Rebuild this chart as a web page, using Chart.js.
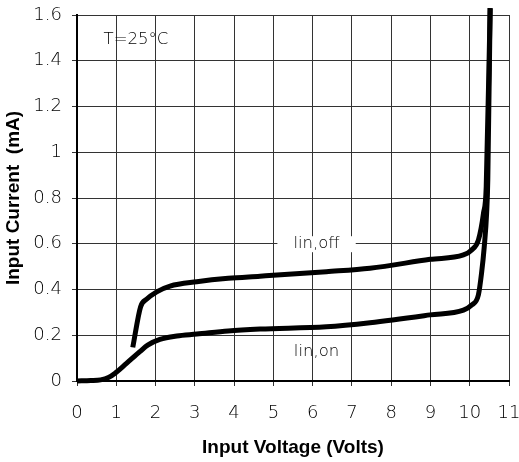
<!DOCTYPE html>
<html lang="en">
<head>
<meta charset="UTF-8">
<title>Input Current vs Input Voltage</title>
<script src="https://cdn.jsdelivr.net/npm/chart.js"></script>
<style>
  html, body { margin: 0; padding: 0; background: #fff; }
  #wrap { width: 519px; height: 462px; }
</style>
</head>
<body>
<div id="wrap"><canvas id="ivChart" width="519" height="462"></canvas></div>
<script>
// curve "lin,off" (upper)
const linOffVolts = [1.42, 1.62, 1.77, 2.03, 2.37, 3.05, 3.85, 4.66, 6.35, 7.46, 8.99, 9.84, 10.05, 10.22, 10.35, 10.42, 10.52];
const linOffCurrent = [0.147, 0.325, 0.357, 0.39, 0.415, 0.434, 0.449, 0.458, 0.478, 0.493, 0.532, 0.551, 0.573, 0.616, 0.733, 0.85, 1.63];

// curve "lin,on" (lower)
const linOnVolts = [0, 0.35, 0.6, 0.8, 0.97, 1.26, 1.6, 1.8, 2.11, 2.54, 3.05, 3.85, 4.66, 6.35, 7.46, 8.99, 9.84, 10.05, 10.22, 10.3, 10.37, 10.43, 10.46, 10.52];
const linOnCurrent = [0, 0.002, 0.005, 0.015, 0.034, 0.077, 0.128, 0.157, 0.182, 0.197, 0.205, 0.219, 0.227, 0.237, 0.255, 0.289, 0.31, 0.332, 0.376, 0.47, 0.587, 0.733, 0.88, 1.63];

const xTicks = [0, 1, 2, 3, 4, 5, 6, 7, 8, 9, 10, 11];
const xTickLabels = ['0', '1', '2', '3', '4', '5', '6', '7', '8', '9', '10', '11'];
const yTicks = [0, 0.2, 0.4, 0.6, 0.8, 1.0, 1.2, 1.4, 1.6];
const yTickLabels = ['0', '0.2', '0.4', '0.6', '0.8', '1', '1.2', '1.4', '1.6'];

// text notes placed in data units
const notes = [
  { text: 'T=25°C', x: 1.5, y: 1.49, box: false },
  { text: 'lin,off', x: 6.1, y: 0.598, box: true },
  { text: 'lin,on', x: 6.1, y: 0.127, box: false }
];

const lightFamily = '"DejaVu Sans", Lato, sans-serif';
const tickFont = { family: lightFamily, size: 18, weight: '200' };
const titleFont = { family: '"Liberation Sans", Arial, sans-serif', size: 19, weight: 'bold' };

function toPoints(xs, ys) {
  return xs.map((x, i) => ({ x: x, y: ys[i] }));
}

function labelFor(list, labels, v) {
  const i = list.findIndex(t => Math.abs(t - v) < 1e-6);
  return i < 0 ? '' : labels[i];
}

const notePlugin = {
  id: 'notes',
  afterDatasetsDraw(chart) {
    const ctx = chart.ctx;
    const xs = chart.scales.x, ys = chart.scales.y;
    ctx.save();
    ctx.font = '200 16.5px ' + lightFamily;
    ctx.textAlign = 'center';
    ctx.textBaseline = 'middle';
    notes.forEach(n => {
      const px = xs.getPixelForValue(n.x);
      const py = ys.getPixelForValue(n.y);
      if (n.box) {
        const w = ctx.measureText(n.text).width + 32;
        ctx.fillStyle = '#fff';
        ctx.fillRect(px - w / 2, py - 8, w, 16);
      }
      ctx.fillStyle = '#000';
      ctx.fillText(n.text, px, py);
    });
    ctx.restore();
  }
};

const lineStyle = {
  showLine: true,
  borderColor: '#000',
  borderWidth: 5,
  pointRadius: 0,
  fill: false,
  clip: false,
  cubicInterpolationMode: 'monotone',
  borderCapStyle: 'butt'
};

const gridStyle = {
  display: true,
  drawOnChartArea: true,
  drawTicks: true,
  color: '#333',
  lineWidth: 1,
  tickLength: 5
};

new Chart(document.getElementById('ivChart'), {
  type: 'scatter',
  data: {
    datasets: [
      Object.assign({ label: 'lin,off', data: toPoints(linOffVolts, linOffCurrent) }, lineStyle),
      Object.assign({ label: 'lin,on', data: toPoints(linOnVolts, linOnCurrent) }, lineStyle)
    ]
  },
  options: {
    responsive: false,
    animation: false,
    layout: { padding: { top: 15, right: 10, left: 0, bottom: 0 } },
    plugins: {
      legend: { display: false },
      tooltip: { enabled: false }
    },
    scales: {
      x: {
        type: 'linear',
        min: xTicks[0],
        max: xTicks[xTicks.length - 1],
        afterFit: s => { s.height = 81; s.paddingLeft = 0; s.paddingRight = 0; },
        ticks: {
          stepSize: 1,
          color: '#000',
          font: tickFont,
          padding: 17,
          maxRotation: 0,
          autoSkip: false,
          callback: v => labelFor(xTicks, xTickLabels, v)
        },
        grid: gridStyle,
        border: { color: '#000', width: 2 },
        title: {
          display: true,
          text: 'Input Voltage (Volts)',
          color: '#000',
          font: titleFont,
          padding: { top: 4, bottom: 3 }
        }
      },
      y: {
        type: 'linear',
        min: yTicks[0],
        max: yTicks[yTicks.length - 1],
        afterFit: s => { s.width = 77; s.paddingTop = 0; s.paddingBottom = 0; },
        ticks: {
          stepSize: 0.2,
          color: '#000',
          font: tickFont,
          padding: 10,
          autoSkip: false,
          callback: v => labelFor(yTicks, yTickLabels, v)
        },
        grid: gridStyle,
        border: { color: '#000', width: 2 },
        title: {
          display: true,
          text: 'Input Current  (mA)',
          color: '#000',
          font: titleFont,
          padding: { top: 2, bottom: 0 }
        }
      }
    }
  },
  plugins: [notePlugin]
});
</script>
</body>
</html>
